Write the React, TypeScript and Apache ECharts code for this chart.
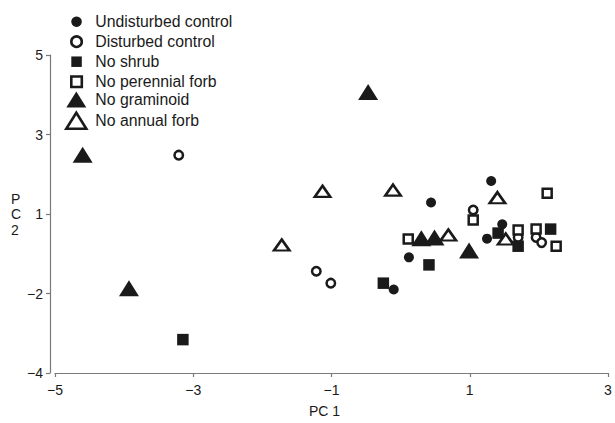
import React, { useEffect, useRef } from "react";
import * as echarts from "echarts";

// Series values [PC 1, PC 2]
const undisturbedControl = [
  [0.44, 1.29], [0.12, -0.09], [-0.1, -0.9], [1.31, 1.83], [1.47, 0.74], [1.25, 0.38],
];
const disturbedControl = [
  [-3.21, 2.48], [-1.22, -0.44], [-1.01, -0.74], [1.05, 1.1], [1.7, 0.41], [1.96, 0.41], [2.04, 0.28],
];
const noShrub = [
  [-3.15, -2.16], [-0.25, -0.74], [0.41, -0.28], [1.41, 0.52], [1.7, 0.19], [2.17, 0.62],
];
const noPerennialForb = [
  [0.11, 0.37], [1.05, 0.85], [2.12, 1.52], [1.7, 0.6], [1.96, 0.62], [2.25, 0.19],
];
const noGraminoid = [
  [-4.6, 2.49], [-3.93, -0.87], [-0.47, 4.07], [0.3, 0.39], [0.49, 0.41], [0.99, 0.08],
];
const noAnnualForb = [
  [-1.72, 0.22], [-1.13, 1.57], [-0.11, 1.6], [0.69, 0.47], [1.4, 1.41], [1.52, 0.37],
];

const seriesNames = [
  "Undisturbed control",
  "Disturbed control",
  "No shrub",
  "No perennial forb",
  "No graminoid",
  "No annual forb",
];

// Axis ticks (y tick labels as printed in the figure)
const xMin = -5;
const xMax = 3;
const xInterval = 2;
const yTickValues = [-3, -1, 1, 3, 5];
const yTickLabels = ["\u22124", "\u22122", "1", "3", "5"];

const FONT = "'Liberation Sans', Arial, Helvetica, sans-serif";
const INK = "#1a1a1a";
const AXIS = "#7a7a7a";

export default function App() {
  const ref = useRef<HTMLDivElement>(null);

  useEffect(() => {
    const chart = echarts.init(ref.current as HTMLDivElement, null, { renderer: "svg" });

    const filled = { color: INK, opacity: 1 };
    const hollow = { color: "#ffffff", borderColor: INK, borderWidth: 2.5, opacity: 1 };

    const mk = (name: string, data: number[][], symbol: string, size: any, style: any) => ({
      name,
      type: "scatter",
      data,
      symbol,
      symbolSize: size,
      itemStyle: style,
      emphasis: { disabled: true },
    });

    const legendText = (pad: number) => ({
      fontFamily: FONT,
      fontSize: 15.8,
      color: INK,
      lineHeight: 16,
      padding: [0, 0, 0, pad],
    });

    const legendItem = (i: number, hollowItem: boolean) =>
      hollowItem
        ? { name: seriesNames[i], itemStyle: { color: "#ffffff", borderColor: INK, borderWidth: 2.6 } }
        : { name: seriesNames[i], itemStyle: { color: INK, borderWidth: 0 } };

    chart.setOption({
      animation: false,
      textStyle: { fontFamily: FONT },
      grid: { left: 55, right: 7, top: 55, bottom: 49, containLabel: false },
      legend: [
        {
          data: [legendItem(0, false), legendItem(1, true), legendItem(2, false), legendItem(3, true)],
          orient: "vertical",
          left: 70,
          top: 13.7,
          padding: 0,
          itemWidth: 10.5,
          itemHeight: 10.5,
          itemGap: 4,
          selectedMode: false,
          textStyle: legendText(8.5),
        },
        {
          data: [legendItem(4, false), legendItem(5, true)],
          orient: "vertical",
          left: 65,
          top: 91.5,
          padding: 0,
          itemWidth: 20,
          itemHeight: 16,
          itemGap: 4,
          selectedMode: false,
          textStyle: legendText(4),
        },
      ],
      xAxis: {
        type: "value",
        min: xMin,
        max: xMax,
        interval: xInterval,
        splitLine: { show: false },
        axisLine: { onZero: false, lineStyle: { color: AXIS, width: 1.2 } },
        axisTick: { show: true, length: 4, lineStyle: { color: AXIS, width: 1.2 } },
        axisLabel: {
          color: INK,
          fontSize: 14,
          fontFamily: FONT,
          margin: 10,
          formatter: (v: number) => String(v).replace("-", "\u2212"),
        },
        name: "PC 1",
        nameLocation: "middle",
        nameGap: 31,
        nameTextStyle: { color: INK, fontSize: 14, fontFamily: FONT, padding: [0, 14, 0, 0] },
      },
      yAxis: {
        type: "value",
        min: yTickValues[0],
        max: yTickValues[yTickValues.length - 1],
        interval: 2,
        offset: 5,
        splitLine: { show: false },
        axisLine: { onZero: false, lineStyle: { color: AXIS, width: 1.2 } },
        axisTick: { show: true, length: 4, lineStyle: { color: AXIS, width: 1.2 } },
        axisLabel: {
          color: INK,
          fontSize: 14,
          fontFamily: FONT,
          margin: 7,
          formatter: (v: number) => {
            const i = yTickValues.indexOf(v);
            return i >= 0 ? yTickLabels[i] : "";
          },
        },
        name: "P\nC\n2",
        nameLocation: "middle",
        nameRotate: 0,
        nameGap: 37.5,
        nameTextStyle: { color: INK, fontSize: 14, fontFamily: FONT, lineHeight: 15.5, align: "left" },
      },
      series: [
        mk(seriesNames[0], undisturbedControl, "circle", 10, filled),
        mk(seriesNames[1], disturbedControl, "circle", 8.5, hollow),
        mk(seriesNames[2], noShrub, "rect", 11.5, filled),
        mk(seriesNames[3], noPerennialForb, "rect", 9, hollow),
        mk(seriesNames[4], noGraminoid, "triangle", [20, 16], filled),
        mk(seriesNames[5], noAnnualForb, "triangle", [15.5, 11], hollow),
      ],
    });

    return () => chart.dispose();
  }, []);

  return (
    <div
      ref={ref}
      style={{ position: "absolute", left: 0, top: 0, width: 615, height: 423, background: "#fff" }}
    />
  );
}
